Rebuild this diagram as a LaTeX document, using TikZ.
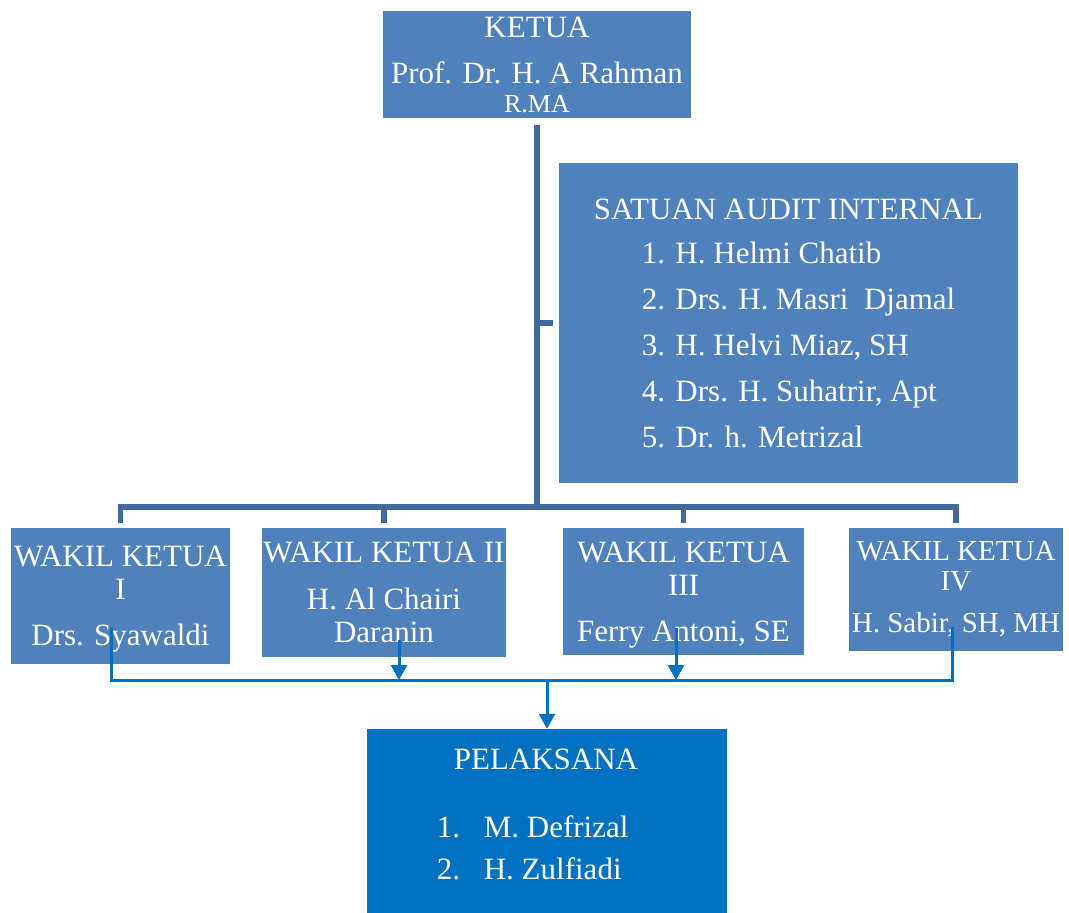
\documentclass[tikz,border=0pt]{standalone}
\usepackage{fontspec}
\setmainfont{Liberation Serif}
\usetikzlibrary{arrows.meta}
\definecolor{kotak}{HTML}{4F81BD}
\definecolor{kotakpel}{HTML}{0070C0}
\definecolor{garisgelap}{HTML}{41699B}
\definecolor{alurbiru}{HTML}{0070C0}
\begin{document}
\begin{tikzpicture}[x=1pt, y=-1pt]

\tikzstyle{unit}=[rectangle, fill=kotak, text=white, inner sep=0pt, align=center, font=\fontsize{31}{33}\selectfont]
\tikzstyle{garis}=[draw=garisgelap, line width=5.5pt]
\tikzstyle{alur}=[draw=alurbiru, line width=3pt]
\tikzstyle{panah}=[alur, -{Triangle[length=15pt,width=16pt]}]

\useasboundingbox (0,0) rectangle (1069,913);

\node (K) [unit, minimum width=308pt, minimum height=107pt, font=\fontsize{31}{46}\selectfont] at (537,64.5) {KETUA\\Prof. Dr. H. A Rahman\\[-17pt]{\fontsize{26}{29}\selectfont R.MA}};

\node (SAI) [unit, minimum width=459pt, minimum height=320pt, align=left, font=\fontsize{31}{46}\selectfont] at (788.5,323) {SATUAN AUDIT INTERNAL\\[-2pt]
\hspace*{48pt}1. H. Helmi Chatib\\
\hspace*{48pt}2. Drs. H. Masri~ Djamal\\
\hspace*{48pt}3. H. Helvi Miaz, SH\\
\hspace*{48pt}4. Drs. H. Suhatrir, Apt\\
\hspace*{48pt}5. Dr. h. Metrizal};

\node (W1) [unit, minimum width=219pt, minimum height=136pt, text depth=0pt] at (120.5,596) {WAKIL KETUA\\I\\[13pt]Drs. Syawaldi};
\node (W2) [unit, minimum width=244pt, minimum height=129pt] at (384,592.5) {WAKIL KETUA II\\[14pt]H. Al Chairi\\Daranin};
\node (W3) [unit, minimum width=241pt, minimum height=127pt, text depth=0pt] at (683.5,591.5) {WAKIL KETUA\\III\\[13pt]Ferry Antoni, SE};
\node (W4) [unit, minimum width=214pt, minimum height=123pt, font=\fontsize{29}{30}\selectfont] at (956,589.5) {WAKIL KETUA\\IV\\[12pt]H. Sabir, SH, MH};

\node (P) [unit, fill=kotakpel, minimum width=360pt, minimum height=188pt, align=left, text depth=18.5pt, font=\fontsize{31}{42}\selectfont] at (547,823) {\hspace*{17pt}PELAKSANA\hspace*{19pt}\\[26pt]
\makebox[47pt][l]{1.}M. Defrizal\\
\makebox[47pt][l]{2.}H. Zulfiadi};

% garis komando
\coordinate (bus) at (537,507);
\draw [garis] ([yshift=-7pt]K.south) -- (bus);
\draw [garis] (K.south |- SAI.west) -- ([xshift=-6pt]SAI.west);
\draw [garis] ([yshift=5pt]W1.north) |- (bus) -| ([yshift=5pt]W4.north);
\draw [garis] ([yshift=5pt]W2.north) -- (W2.north |- bus);
\draw [garis] ([yshift=5pt]W3.north) -- (W3.north |- bus);

% alur ke pelaksana
\coordinate (mrg) at (547,680);
\draw [alur] ([xshift=-9pt,yshift=37pt]W1.south) |- (mrg) -| ([xshift=-4pt,yshift=24pt]W4.south);
\draw [panah] ([xshift=15pt,yshift=17pt]W2.south) -- ([xshift=15pt]W2.south |- mrg);
\draw [panah] ([xshift=-7.5pt,yshift=27pt]W3.south) -- ([xshift=-7.5pt]W3.south |- mrg);
\draw [panah] (mrg) -- (P.north);

\end{tikzpicture}
\end{document}
